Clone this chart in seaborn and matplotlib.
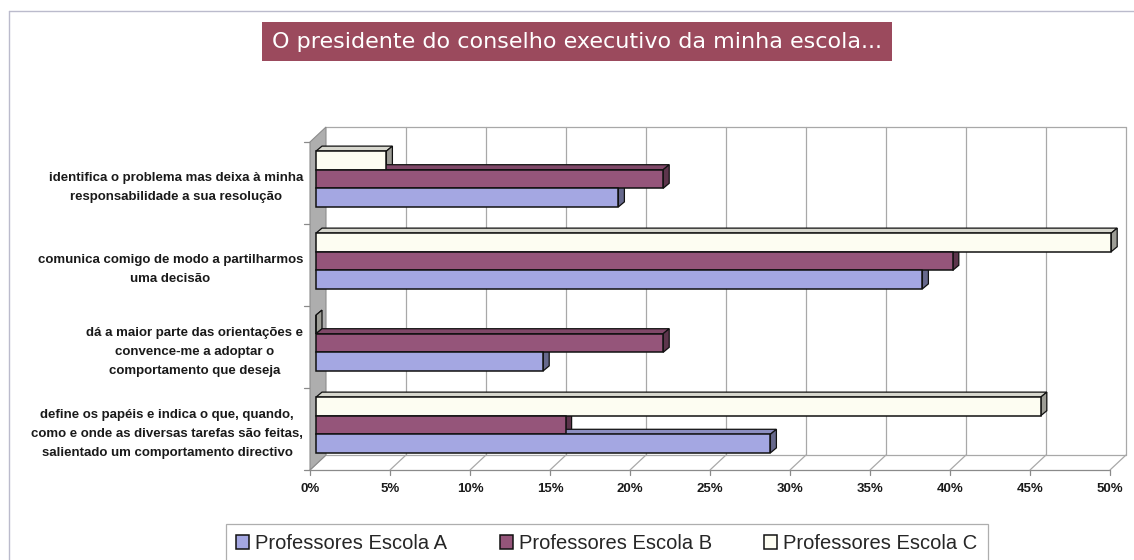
import numpy as np
import pandas as pd
import matplotlib
matplotlib.use("Agg")
import matplotlib.pyplot as plt
import seaborn as sns
from matplotlib.patches import Polygon, Rectangle
from matplotlib.lines import Line2D
from matplotlib.transforms import ScaledTranslation

# ---------------- data ----------------
categories = [
    "identifica o problema mas deixa à minha\nresponsabilidade a sua resolução",
    "comunica comigo de modo a partilharmos\numa decisão",
    "dá a maior parte das orientações e\nconvence-me a adoptar o\ncomportamento que deseja",
    "define os papéis e indica o que, quando,\ncomo e onde as diversas tarefas são feitas,\nsalientado um comportamento directivo",
]
series_names = ["Professores Escola A", "Professores Escola B", "Professores Escola C"]
escola_a = [18.9, 37.9, 14.2, 28.4]
escola_b = [21.7, 39.8, 21.7, 15.6]
escola_c = [4.4, 49.7, 0.0, 45.3]
xticks = [0, 5, 10, 15, 20, 25, 30, 35, 40, 45, 50]
xtick_labels = ["0%", "5%", "10%", "15%", "20%", "25%", "30%", "35%", "40%", "45%", "50%"]
title = "O presidente do conselho executivo da minha escola..."
colors = {"Professores Escola A": "#9A9EEC",
          "Professores Escola B": "#A04A7C",
          "Professores Escola C": "#FFFFF0"}

df = pd.DataFrame({
    "categoria": categories * 3,
    "escola": [series_names[0]] * 4 + [series_names[1]] * 4 + [series_names[2]] * 4,
    "valor": escola_a + escola_b + escola_c,
})

sns.set_style("white")
plt.rcParams["font.family"] = ["Liberation Sans", "DejaVu Sans"]

W_PX, H_PX = 1134, 560
fig = plt.figure(figsize=(W_PX / 100, H_PX / 100), dpi=100)
ax = fig.add_axes([316 / W_PX, 1 - 466 / H_PX, 800 / W_PX, 328 / H_PX])

sns.barplot(data=df, y="categoria", x="valor", hue="escola",
            hue_order=series_names[::-1], order=categories,
            palette=colors, orient="h", width=0.68, gap=0,
            edgecolor="#111111", linewidth=1.1, ax=ax)

ax.set_xlim(0, 50)
ax.set_ylim(len(categories) - 0.5, -0.5)
for s in ax.spines.values():
    s.set_visible(False)
ax.set_xlabel("")
ax.set_ylabel("")
ax.grid(False)

# pixel -> data conversion
W = ax.bbox.width
H = ax.bbox.height
px_x = 50 / W
px_y = len(categories) / H
Y_TOP, Y_BOT = -0.5, len(categories) - 0.5


def fp(x, y):
    return (x - 6 * px_x, y + 4 * px_y)


def bp(x, y):
    return (x + 10 * px_x, y - 11 * px_y)


def seg(p1, p2, color="#A8A8A8", lw=0.9, z=0.5):
    ax.add_line(Line2D([p1[0], p2[0]], [p1[1], p2[1]], color=color, lw=lw,
                       zorder=z, clip_on=False))


# back wall gridlines / frame
for x in xticks[1:]:
    seg(bp(x, Y_TOP), bp(x, Y_BOT))
seg(bp(0, Y_TOP), bp(50, Y_TOP))
seg(bp(0, Y_BOT), bp(50, Y_BOT))
# floor
seg(fp(0, Y_BOT), fp(50, Y_BOT), color="#8A8A8A")
for x in xticks:
    seg(fp(x, Y_BOT), bp(x, Y_BOT))
    f = fp(x, Y_BOT)
    seg(f, (f[0], f[1] + 5 * px_y), color="#8A8A8A")
# left wall
wall = Polygon([fp(0, Y_BOT), fp(0, Y_TOP), bp(0, Y_TOP), bp(0, Y_BOT)],
               closed=True, facecolor="#AEAEAE", edgecolor="#8C8C8C", lw=0.8,
               zorder=0.6, clip_on=False)
ax.add_patch(wall)
for i in range(len(categories) + 1):
    yy = Y_TOP + i
    f = fp(0, yy)
    seg((f[0] - 6 * px_x, f[1]), f, color="#8A8A8A")

# 3D faces for bars
dx = 6 * px_x
dy = 5 * px_y
bars = [p for p in ax.patches if isinstance(p, Rectangle) and p.get_height() > 0 and p is not wall]
for p in bars:
    x0, y0, w, h = p.get_x(), p.get_y(), p.get_width(), p.get_height()
    fc = np.array(p.get_facecolor()[:3])
    top = Polygon([(x0, y0), (x0 + w, y0), (x0 + w + dx, y0 - dy), (x0 + dx, y0 - dy)],
                  closed=True, facecolor=fc * 0.85, edgecolor="#111111", lw=0.9,
                  zorder=2.5, clip_on=False)
    side = Polygon([(x0 + w, y0), (x0 + w, y0 + h), (x0 + w + dx, y0 + h - dy),
                    (x0 + w + dx, y0 - dy)],
                   closed=True, facecolor=fc * 0.62, edgecolor="#111111", lw=0.9,
                   zorder=2.5, clip_on=False)
    ax.add_patch(top)
    ax.add_patch(side)
    p.set_zorder(3)
    p.set_clip_on(False)

# ticks & labels
ax.set_yticks(range(len(categories)), labels=categories)
ax.set_xticks(xticks, labels=xtick_labels)
ax.tick_params(axis="y", length=0, pad=9.4, labelsize=9.5, labelcolor="#1a1a1a")
ax.tick_params(axis="x", length=0, pad=12.0, labelsize=9.5, labelcolor="#1a1a1a")
for t in ax.get_yticklabels():
    t.set_multialignment("center")
    t.set_linespacing(1.75)
    t.set_fontweight("bold")
    t.set_transform(t.get_transform() + ScaledTranslation(0, -4 / 100, fig.dpi_scale_trans))
for t in ax.get_xticklabels():
    t.set_fontweight("bold")
    t.set_transform(t.get_transform() + ScaledTranslation(-6 / 100, 0, fig.dpi_scale_trans))

# legend
handles, labels = ax.get_legend_handles_labels()
ax.get_legend().remove()
order = [labels.index(n) for n in series_names]
leg = fig.legend([handles[i] for i in order], [labels[i] for i in order],
                 loc="upper center", bbox_to_anchor=(607 / W_PX, 1 - 524 / H_PX),
                 borderaxespad=0, ncol=3, fontsize=14.5, frameon=True, fancybox=False,
                 edgecolor="#9A9A9A", handlelength=0.65, handleheight=0.65,
                 handletextpad=0.3, columnspacing=2.6, borderpad=0.5)
leg.get_frame().set_linewidth(0.9)

# title box
fig.add_artist(Rectangle((262 / W_PX, 1 - 61 / H_PX), 630 / W_PX, 39 / H_PX,
                         transform=fig.transFigure, facecolor="#9B4A5D",
                         edgecolor="none"))
fig.text(577 / W_PX, 1 - 42 / H_PX, title, ha="center", va="center",
         color="white", fontsize=16, family=["DejaVu Sans"])

# outer frame
fig.add_artist(Line2D([9 / W_PX, 1], [1 - 11 / H_PX, 1 - 11 / H_PX],
                      transform=fig.transFigure, color="#BBBBCC", lw=1))
fig.add_artist(Line2D([9 / W_PX, 9 / W_PX], [0, 1 - 11 / H_PX],
                      transform=fig.transFigure, color="#BBBBCC", lw=1))

fig.savefig("out.png", dpi=100)
